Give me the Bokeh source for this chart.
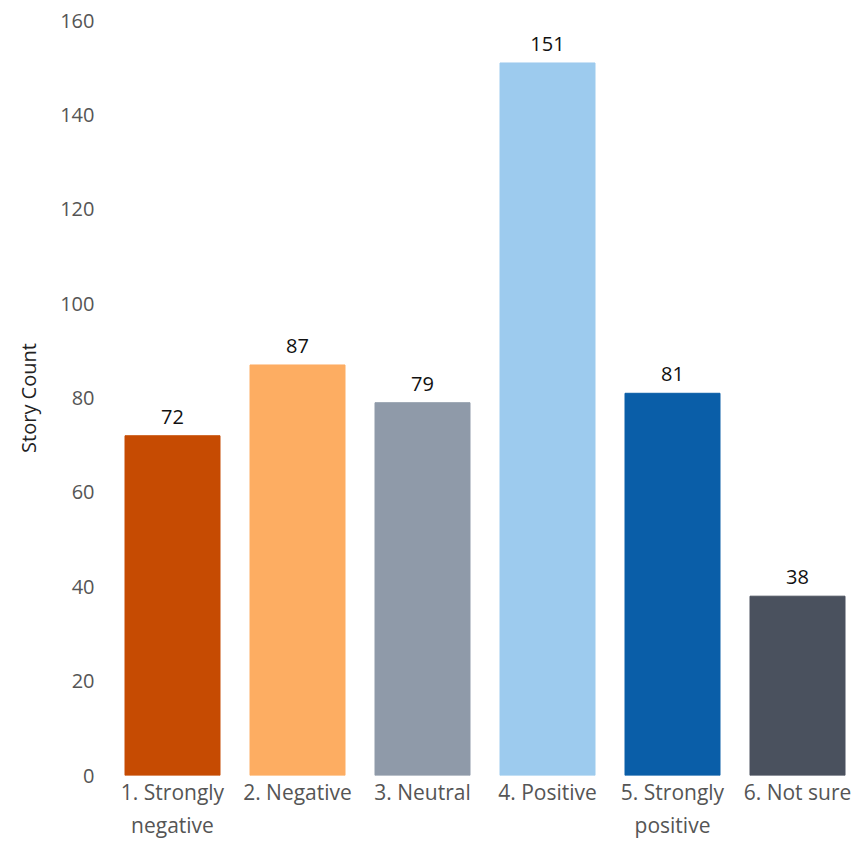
from bokeh.plotting import figure
from bokeh.models import ColumnDataSource, Range1d, FixedTicker, LabelSet
from bokeh.core.properties import value
from bokeh.embed import file_html
from bokeh.resources import INLINE

categories = ["1. Strongly\nnegative", "2. Negative", "3. Neutral", "4. Positive",
              "5. Strongly\npositive", "6. Not sure"]
counts = [72, 87, 79, 151, 81, 38]
colors = ["#c64b02", "#fdad62", "#8f9aa9", "#9dcbee", "#0a5ea8", "#4a515e"]
y_ticks = [0, 20, 40, 60, 80, 100, 120, 140, 160]

xs = list(range(1, len(categories) + 1))
src = ColumnDataSource(dict(x=xs, top=counts, color=colors, lbl=[str(c) for c in counts]))

FONT = "Open Sans"
p = figure(width=854, height=842, output_backend="svg", toolbar_location=None,
           x_range=Range1d(0.504, 6.392), y_range=Range1d(0, 160.0),
           min_border_left=110, min_border_right=8, min_border_top=20, min_border_bottom=67)
p.outline_line_color = None
p.xgrid.grid_line_color = None
p.ygrid.grid_line_color = None

p.vbar(x="x", top="top", bottom=0, width=0.76, color="color", source=src)

labels = LabelSet(x="x", y="top", text="lbl", source=src, text_align="center",
                  text_baseline="bottom", y_offset=12, text_font_size="20px",
                  text_color="#111111", text_font=value(FONT))
p.add_layout(labels)

p.xaxis.ticker = FixedTicker(ticks=xs)
p.xaxis.major_label_overrides = {x: c for x, c in zip(xs, categories)}
p.xaxis.axis_line_color = None
p.xaxis.major_tick_line_color = None
p.xaxis.minor_tick_line_color = None
p.xaxis.major_tick_out = 0
p.xaxis.major_tick_in = 0
p.xaxis.major_label_text_font_size = "21px"
p.xaxis.major_label_text_color = "#555555"
p.xaxis.major_label_text_font = FONT
p.xaxis.major_label_text_line_height = 1.2
p.xaxis.major_label_standoff = 2

p.yaxis.ticker = FixedTicker(ticks=y_ticks)
p.yaxis.axis_line_color = None
p.yaxis.major_tick_line_color = None
p.yaxis.minor_tick_line_color = None
p.yaxis.major_tick_out = 0
p.yaxis.major_tick_in = 0
p.yaxis.major_label_text_font_size = "20px"
p.yaxis.major_label_text_color = "#555555"
p.yaxis.major_label_text_font = FONT
p.yaxis.major_label_standoff = 16
p.yaxis.axis_label = "Story Count"
p.yaxis.axis_label_text_font_style = "normal"
p.yaxis.axis_label_text_font_size = "20px"
p.yaxis.axis_label_text_color = "#222222"
p.yaxis.axis_label_text_font = FONT
p.yaxis.axis_label_standoff = 15

open("out.html", "w").write(file_html(p, INLINE))
